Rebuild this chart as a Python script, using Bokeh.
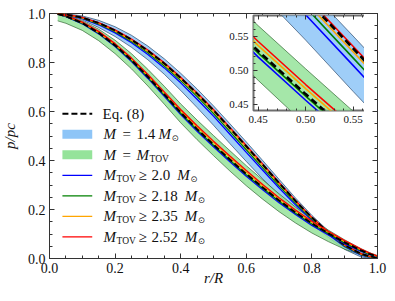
from bokeh.plotting import figure
from bokeh.models import Range1d, LinearAxis, FixedTicker, Label, CustomJSTickFormatter
from bokeh.layouts import column
from bokeh.embed import file_html
from bokeh.resources import INLINE

# ---------------- data ----------------
r = [0.025, 0.05, 0.1, 0.15, 0.2, 0.25, 0.3, 0.35, 0.4, 0.45, 0.5, 0.55,
     0.6, 0.65, 0.7, 0.75, 0.8, 0.85, 0.9, 0.95, 0.975, 1.0]

# M = 1.4 Msun family
eq8_14 = [0.999, 0.996, 0.983, 0.961, 0.931, 0.893, 0.848, 0.796, 0.737, 0.673, 0.605, 0.532,
          0.458, 0.383, 0.308, 0.235, 0.167, 0.106, 0.055, 0.019, 0.009, 0.004]
lo_14 = [0.997, 0.992, 0.973, 0.943, 0.906, 0.862, 0.811, 0.752, 0.686, 0.616, 0.544, 0.469,
         0.396, 0.325, 0.258, 0.195, 0.139, 0.086, 0.037, 0.006, 0.002, 0.001]
hi_14 = [1.000, 0.999, 0.990, 0.972, 0.946, 0.911, 0.867, 0.815, 0.756, 0.692, 0.623, 0.550,
         0.476, 0.400, 0.323, 0.247, 0.176, 0.113, 0.062, 0.025, 0.013, 0.007]
m20_14 = [0.998, 0.994, 0.979, 0.954, 0.921, 0.881, 0.833, 0.778, 0.717, 0.650, 0.581, 0.507,
          0.433, 0.360, 0.288, 0.219, 0.156, 0.098, 0.048, 0.014, 0.006, 0.003]
m218_14 = [0.999, 0.995, 0.981, 0.957, 0.926, 0.886, 0.840, 0.786, 0.726, 0.661, 0.592, 0.518,
           0.444, 0.370, 0.297, 0.226, 0.161, 0.102, 0.051, 0.016, 0.007, 0.003]
m235_14 = [0.999, 0.996, 0.982, 0.960, 0.929, 0.890, 0.845, 0.792, 0.733, 0.668, 0.600, 0.527,
           0.453, 0.378, 0.304, 0.232, 0.165, 0.104, 0.054, 0.018, 0.008, 0.004]
m252_14 = [0.999, 0.996, 0.984, 0.963, 0.933, 0.896, 0.851, 0.799, 0.740, 0.676, 0.608, 0.535,
           0.461, 0.386, 0.310, 0.237, 0.168, 0.107, 0.056, 0.020, 0.010, 0.005]

# M = M_TOV family
eq8_tov = [0.998, 0.989, 0.961, 0.921, 0.870, 0.810, 0.742, 0.670, 0.596, 0.528, 0.465, 0.404,
           0.345, 0.290, 0.237, 0.188, 0.143, 0.103, 0.066, 0.033, 0.019, 0.008]
lo_tov = [0.970, 0.960, 0.931, 0.889, 0.836, 0.774, 0.704, 0.630, 0.554, 0.485, 0.420, 0.357,
          0.297, 0.242, 0.191, 0.145, 0.104, 0.069, 0.038, 0.015, 0.007, 0.002]
hi_tov = [0.998, 0.991, 0.969, 0.936, 0.891, 0.836, 0.772, 0.703, 0.631, 0.565, 0.502, 0.440,
          0.379, 0.321, 0.264, 0.210, 0.160, 0.116, 0.076, 0.040, 0.024, 0.012]
m20_tov = [0.997, 0.987, 0.958, 0.917, 0.865, 0.804, 0.735, 0.662, 0.588, 0.519, 0.456, 0.395,
           0.336, 0.281, 0.228, 0.180, 0.135, 0.096, 0.060, 0.029, 0.017, 0.007]
m218_tov = [0.998, 0.988, 0.960, 0.920, 0.868, 0.808, 0.740, 0.667, 0.593, 0.525, 0.462, 0.401,
            0.342, 0.287, 0.234, 0.185, 0.141, 0.101, 0.064, 0.032, 0.018, 0.008]
m235_tov = [0.998, 0.990, 0.963, 0.923, 0.873, 0.814, 0.746, 0.675, 0.602, 0.536, 0.473, 0.412,
            0.352, 0.296, 0.242, 0.193, 0.147, 0.107, 0.069, 0.035, 0.021, 0.009]
m252_tov = [0.998, 0.991, 0.965, 0.927, 0.877, 0.818, 0.751, 0.680, 0.608, 0.542, 0.479, 0.418,
            0.359, 0.302, 0.248, 0.198, 0.152, 0.111, 0.073, 0.038, 0.023, 0.010]

main_ticks = [0.0, 0.2, 0.4, 0.6, 0.8, 1.0]
main_minor = [i * 0.05 for i in range(21)]
inset_ticks = [0.45, 0.50, 0.55]
inset_minor = [0.44 + i * 0.01 for i in range(15)]
thresholds = ["2.0", "2.18", "2.35", "2.52"]
x_title = "r/R"
y_title = "p/pc"

# ---------------- style ----------------
SERIF = "Liberation Serif"
BLUE_FILL = "#8ec5f7"
GREEN_FILL = "#95e39a"
BLUE_EDGE = "#1d3b5e"
GREEN_EDGE = "#245a24"
LINE_COLORS = ["#0000ff", "#008000", "#ffa500", "#ff0000"]
AX = "#333333"

families = [
    (lo_14, hi_14, BLUE_FILL, BLUE_EDGE, [m20_14, m218_14, m235_14, m252_14], eq8_14),
    (lo_tov, hi_tov, GREEN_FILL, GREEN_EDGE, [m20_tov, m218_tov, m235_tov, m252_tov], eq8_tov),
]


def draw_curves(fig, lw, dash, dash_w):
    for lo, hi, fc, ec, _, _ in families:
        fig.varea(x=r, y1=lo, y2=hi, fill_color=fc, fill_alpha=0.85)
        fig.line(r, lo, line_color=ec, line_width=0.8, line_alpha=0.8)
        fig.line(r, hi, line_color=ec, line_width=0.8, line_alpha=0.8)
    for _, _, _, _, lines, eq in families:
        for ys, c in zip(lines, LINE_COLORS):
            fig.line(r, ys, line_color=c, line_width=lw)
        fig.line(r, eq, line_color="black", line_width=dash_w, line_dash=dash)


def frame_axes(fig, ticks, minor, fs, major_in, minor_in, standoff, digits):
    fig.add_layout(LinearAxis(), "above")
    fig.add_layout(LinearAxis(), "right")
    for side in ("below", "left", "above", "right"):
        for ax in getattr(fig, side):
            ax.ticker = FixedTicker(ticks=ticks, minor_ticks=minor)
            ax.axis_line_color = None
            ax.major_tick_in = major_in
            ax.major_tick_out = 0
            ax.minor_tick_in = minor_in
            ax.minor_tick_out = 0
            ax.major_tick_line_color = AX
            ax.minor_tick_line_color = AX
            ax.major_label_text_font = SERIF
            ax.major_label_text_font_size = fs
            ax.major_label_text_color = "#111111"
            if side in ("above", "right"):
                ax.formatter = CustomJSTickFormatter(code="return ''")
                ax.major_label_standoff = 0
            else:
                ax.formatter = CustomJSTickFormatter(code="return tick.toFixed(%d)" % digits)
                ax.major_label_standoff = standoff


def lab(fig, x, y, text, size="15px", style="normal", font=SERIF, align="left",
        baseline="middle"):
    fig.add_layout(Label(x=x, y=y, x_units="screen", y_units="screen", text=text,
                         text_font=font, text_font_size=size, text_font_style=style,
                         text_align=align, text_baseline=baseline, text_color="#111111"))


# ---------------- main figure ----------------
p = figure(frame_width=330, frame_height=245, x_range=Range1d(0, 1), y_range=Range1d(0, 1),
           output_backend="svg", toolbar_location=None,
           min_border_left=50, min_border_right=12, min_border_top=5, min_border_bottom=40,
           background_fill_color="white", border_fill_color=None,
           outline_line_color=AX, outline_line_width=1)
p.grid.visible = False
p.extra_x_ranges = {"px": Range1d(0, 330)}
p.extra_y_ranges = {"px": Range1d(0, 245)}
frame_axes(p, main_ticks, main_minor, "14px", 5, 3, 4, 1)
for ax, t, so in ((p.below[0], x_title, -6), (p.left[0], y_title, 7)):
    ax.axis_label = t
    ax.axis_label_text_font = SERIF
    ax.axis_label_text_font_style = "italic"
    ax.axis_label_text_font_size = "15px"
    ax.axis_label_text_color = "#111111"
    ax.axis_label_standoff = so
draw_curves(p, 1.3, "6 3", 2.0)

# legend (manual, with sub-scripts as real text)
rows_y = [144.7, 124.2, 103.7, 83.2, 62.7, 42.2, 21.7]
SW0, SW1 = 13, 43
p.line([SW0, SW1], [rows_y[0]] * 2, line_color="black", line_width=2, line_dash="6 3",
       x_range_name="px", y_range_name="px")
for i, fc in ((1, BLUE_FILL), (2, GREEN_FILL)):
    p.quad(left=SW0, right=SW1, bottom=rows_y[i] - 4.5, top=rows_y[i] + 4.5,
           fill_color=fc, line_color=None, x_range_name="px", y_range_name="px")
for k, c in enumerate(LINE_COLORS):
    yy = rows_y[3 + k]
    p.line([SW0, SW1], [yy, yy], line_color=c, line_width=1.2,
           x_range_name="px", y_range_name="px")

SUN = "\u2299"
lab(p, 53, rows_y[0], "Eq. (8)")
y1 = rows_y[1]
lab(p, 54, y1, "M", style="italic")
lab(p, 73, y1, "=")
lab(p, 87, y1, "1.4")
lab(p, 109, y1, "M", style="italic")
lab(p, 122, y1 - 4, SUN, size="8.5px", font="DejaVu Sans")
y2 = rows_y[2]
lab(p, 54, y2, "M", style="italic")
lab(p, 73, y2, "=")
lab(p, 87, y2, "M", style="italic")
lab(p, 100, y2 - 4, "TOV", size="9.5px")
for k, t in enumerate(thresholds):
    yy = rows_y[3 + k]
    lab(p, 54, yy, "M", style="italic")
    lab(p, 67, yy - 4, "TOV", size="9.5px")
    lab(p, 89, yy, "\u2265")
    lab(p, 102, yy, t)
    mx = 102 + 7.5 * (len(t) - 1) + 3.75 + 7
    lab(p, mx, yy, "M", style="italic")
    lab(p, mx + 13, yy - 4, SUN, size="8.5px", font="DejaVu Sans")
p.margin = (8, 0, 0, -2)

# ---------------- inset ----------------
ins = figure(frame_width=128, frame_height=95, x_range=Range1d(0.445, 0.58),
             y_range=Range1d(0.441, 0.58),
             output_backend="svg", toolbar_location=None,
             min_border_left=30, min_border_right=4, min_border_top=4, min_border_bottom=20,
             background_fill_color="white", border_fill_color=None,
             outline_line_color="#6e6e6e", outline_line_width=2)
ins.grid.visible = False
frame_axes(ins, inset_ticks, inset_minor, "11px", 4, 2, 5, 2)
draw_curves(ins, 1.6, "7 4", 2.6)
ins.margin = (-287, 0, 0, 202)

layout = column(p, ins)
open("out.html", "w").write(file_html(layout, INLINE))
